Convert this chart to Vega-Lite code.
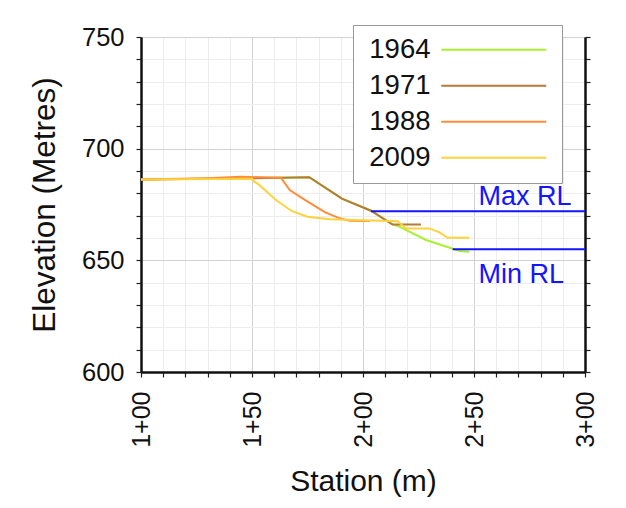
{
  "$schema": "https://vega.github.io/schema/vega-lite/v6.json",
  "width": 444,
  "height": 335,
  "padding": {"left": 29, "top": 24, "right": 5, "bottom": 5},
  "background": "white",
  "config": {
    "view": {"stroke": null},
    "font": "Liberation Sans",
    "axis": {"labelFont": "Liberation Sans", "titleFont": "Liberation Sans", "labelColor": "#111", "titleColor": "#111", "titleFontWeight": "normal"},
    "legend": {
      "orient": "none", "legendX": 212, "legendY": -12,
      "symbolType": "M-5,0H5", "symbolSize": 441, "symbolStrokeWidth": 2,
      "labelFont": "Liberation Sans", "labelFontSize": 27.5, "labelColor": "#111",
      "labelAlign": "right", "labelOffset": -77, "symbolOffset": 116, "labelLimit": 0,
      "strokeColor": "#999", "fillColor": "white", "padding": 11, "rowPadding": 7
    }
  },
  "datasets": {
    "profiles": [
      {"year": "1964", "station": 100, "elev": 686.2},
      {"year": "1964", "station": 150, "elev": 686.8},
      {"year": "1964", "station": 175.8, "elev": 687.2},
      {"year": "1964", "station": 190.5, "elev": 677.6},
      {"year": "1964", "station": 203.6, "elev": 672.2},
      {"year": "1964", "station": 213.3, "elev": 666.1},
      {"year": "1964", "station": 216.4, "elev": 665.1},
      {"year": "1964", "station": 228.4, "elev": 659.1},
      {"year": "1964", "station": 240.4, "elev": 655.2},
      {"year": "1964", "station": 243.4, "elev": 654.2},
      {"year": "1964", "station": 247.9, "elev": 653.8},
      {"year": "1971", "station": 100, "elev": 686.2},
      {"year": "1971", "station": 150, "elev": 686.7},
      {"year": "1971", "station": 175.8, "elev": 687.2},
      {"year": "1971", "station": 190.5, "elev": 677.6},
      {"year": "1971", "station": 203.6, "elev": 672.2},
      {"year": "1971", "station": 213.3, "elev": 666.0},
      {"year": "1971", "station": 226.1, "elev": 666.0},
      {"year": "1988", "station": 100, "elev": 686.2},
      {"year": "1988", "station": 130, "elev": 686.8},
      {"year": "1988", "station": 145, "elev": 687.4},
      {"year": "1988", "station": 163, "elev": 687.0},
      {"year": "1988", "station": 167, "elev": 681.5},
      {"year": "1988", "station": 174, "elev": 677.0},
      {"year": "1988", "station": 183, "elev": 671.5},
      {"year": "1988", "station": 189, "elev": 669.0},
      {"year": "1988", "station": 194, "elev": 667.7},
      {"year": "1988", "station": 203, "elev": 667.6},
      {"year": "2009", "station": 100, "elev": 686.2},
      {"year": "2009", "station": 150, "elev": 686.5},
      {"year": "2009", "station": 151, "elev": 685.2},
      {"year": "2009", "station": 153, "elev": 684.0},
      {"year": "2009", "station": 160.8, "elev": 677.0},
      {"year": "2009", "station": 168, "elev": 672.0},
      {"year": "2009", "station": 175, "elev": 669.5},
      {"year": "2009", "station": 185, "elev": 668.4},
      {"year": "2009", "station": 200, "elev": 667.9},
      {"year": "2009", "station": 215.6, "elev": 667.5},
      {"year": "2009", "station": 219.4, "elev": 664.3},
      {"year": "2009", "station": 229.9, "elev": 664.3},
      {"year": "2009", "station": 234.4, "elev": 662.5},
      {"year": "2009", "station": 238.1, "elev": 660.1},
      {"year": "2009", "station": 247.9, "elev": 660.1}
    ],
    "limits": [
      {"name": "Max RL", "from": 203.6, "to": 300, "elev": 672, "labelStation": 252, "labelElev": 678.5},
      {"name": "Min RL", "from": 240.4, "to": 300, "elev": 655, "labelStation": 252, "labelElev": 643.4}
    ]
  },
  "layer": [
    {
      "data": {"name": "profiles"},
      "mark": {"type": "line", "strokeWidth": 2},
      "encoding": {
        "x": {
          "field": "station", "type": "quantitative",
          "scale": {"domain": [100, 300], "nice": false, "zero": false},
          "axis": {
            "title": "Station (m)", "titleFontSize": 30, "titlePadding": 19,
            "values": [100,110,120,130,140,150,160,170,180,190,200,210,220,230,240,250,260,270,280,290,300],
            "labelExpr": "datum.value % 50 === 0 ? floor(datum.value / 100) + '+' + (datum.value % 100 === 0 ? '00' : '50') : ''",
            "labelAngle": -90,
            "labelFontSize": {"condition": {"test": "datum.value % 50 === 0", "value": 25}, "value": 0},
            "labelPadding": 14, "labelOverlap": false,
            "grid": true,
            "gridColor": {"condition": {"test": "datum.value % 50 === 0", "value": "#d2d2d2"}, "value": "#ededed"},
            "domainColor": "#111", "domainWidth": 2.5,
            "tickColor": "#222", "tickSize": 5, "tickWidth": 1.2
          }
        },
        "y": {
          "field": "elev", "type": "quantitative",
          "scale": {"domain": [600, 750], "nice": false, "zero": false},
          "axis": {
            "title": "Elevation (Metres)", "titleFontSize": 31.5, "titlePadding": 20,
            "values": [600,610,620,630,640,650,660,670,680,690,700,710,720,730,740,750],
            "labelExpr": "datum.value % 50 === 0 ? datum.label : ''",
            "labelFontSize": 25.5, "labelPadding": 12, "labelOverlap": false,
            "grid": true,
            "gridColor": {"condition": {"test": "datum.value % 50 === 0", "value": "#d2d2d2"}, "value": "#ededed"},
            "domainColor": "#111", "domainWidth": 2.5,
            "tickColor": "#222", "tickSize": 5, "tickWidth": 1.2
          }
        },
        "color": {
          "field": "year", "type": "nominal",
          "scale": {"domain": ["1964", "1971", "1988", "2009"], "range": ["#a8f030", "#b5793a", "#ff8c3a", "#ffd23c"]},
          "legend": {"title": null}
        }
      }
    },
    {
      "data": {"name": "limits"},
      "mark": {"type": "rule", "color": "#1414ff", "strokeWidth": 2},
      "encoding": {
        "x": {"field": "from", "type": "quantitative", "axis": null},
        "x2": {"field": "to"},
        "y": {
          "field": "elev", "type": "quantitative",
          "axis": {
            "orient": "right", "title": null, "labels": false, "grid": false,
            "values": [600,610,620,630,640,650,660,670,680,690,700,710,720,730,740,750],
            "domainColor": "#111", "domainWidth": 2.5,
            "tickColor": "#222", "tickSize": 5, "tickWidth": 1.2
          }
        }
      }
    },
    {
      "data": {"name": "limits"},
      "mark": {"type": "text", "color": "#1414ff", "fontSize": 27, "font": "Liberation Sans", "align": "left", "baseline": "middle"},
      "encoding": {
        "x": {"field": "labelStation", "type": "quantitative", "axis": null},
        "y": {"field": "labelElev", "type": "quantitative", "axis": null},
        "text": {"field": "name"}
      }
    }
  ],
  "resolve": {"axis": {"x": "independent", "y": "independent"}}
}
